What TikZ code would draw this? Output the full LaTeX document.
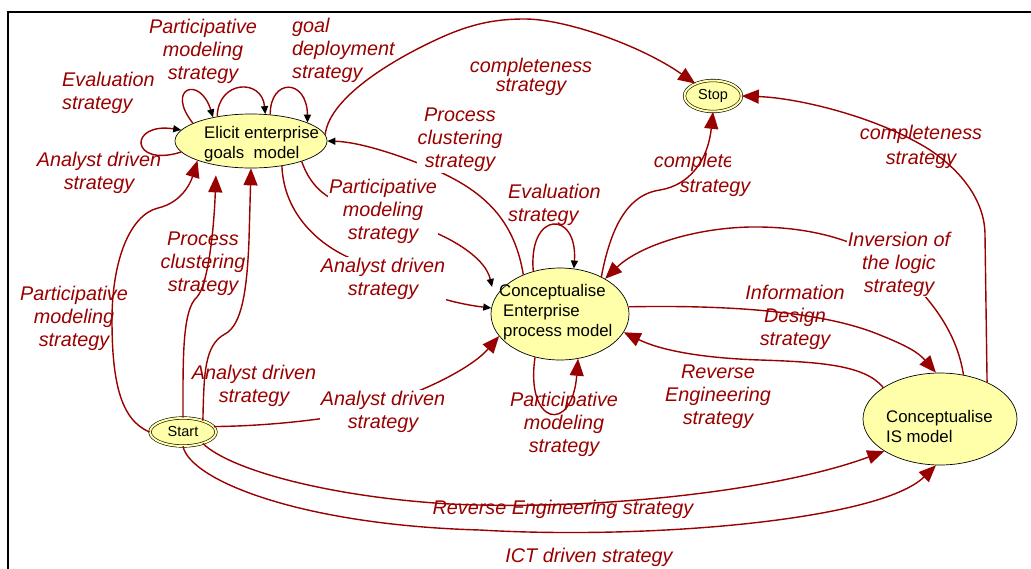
\documentclass[tikz,border=0pt]{standalone}
\usepackage{fontspec}
\setmainfont{Liberation Sans}
\usetikzlibrary{shapes.geometric,arrows.meta}
\definecolor{dred}{RGB}{153,0,0}
\definecolor{fillyel}{RGB}{255,255,170}
\newcommand{\lblfont}{\fontsize{19.8}{23}\selectfont\itshape}
\newcommand{\lblfontB}{\fontsize{19.8}{19}\selectfont\itshape}
\newcommand{\lblfontC}{\fontsize{19.8}{25}\selectfont\itshape}
\newcommand{\nodefont}{\fontsize{16.8}{20}\selectfont}
\newcommand{\smallnodefont}{\fontsize{14.5}{16}\selectfont}
\begin{document}
\begin{tikzpicture}[x=1pt,y=-1pt,
  conn/.style={draw=dred, line width=1.4pt},
  bigtip/.style={-{Triangle[length=17pt,width=14pt]}},
  smalltip/.style={-{Triangle[length=8pt,width=7pt,color=black]}},
  lbl/.style={text=dred, font=\lblfont, align=center, inner sep=2pt},
  opaque/.style={fill=white, inner sep=1pt},
  bubble/.style={ellipse, draw=black, line width=0.7pt, fill=fillyel, inner sep=0pt},
  bubbleD/.style={ellipse, draw=black, line width=0.6pt, double=fillyel, double distance=2pt, fill=fillyel, inner sep=0pt, font=\smallnodefont},
  ntext/.style={font=\nodefont, align=left, inner sep=0pt, text=black, anchor=west},
]
\fill[white] (0,0) rectangle (1031,568);
\useasboundingbox (0,0) rectangle (1031,568);
\draw[line width=2.2pt] (8,575) -- (8,12) -- (1040,12);

% nodes
\node[bubble, minimum width=152, minimum height=54] (elicit) at (251,141) {};
\node[bubble, minimum width=138, minimum height=92] (ent) at (560,314) {};
\node[bubble, minimum width=154, minimum height=92] (is) at (940,419) {};
\node[bubbleD, minimum width=57, minimum height=31] (stop) at (713,96) {Stop};
\node[bubbleD, minimum width=66, minimum height=28] (start) at (183,432) {Start};
\node[ntext] (elicittext) at (204,144) {Elicit enterprise\\goals\ \ model};
\node[ntext] (enttext) at (499,312) {Conceptualise\\\hspace*{4pt}Enterprise\\\hspace*{4pt}process model};
\node[ntext] (istext) at (886,426) {Conceptualise\\IS model};

% loops on Elicit
\draw[conn, smalltip] (elicit.163) .. controls (165,88) and (200,75) .. (elicit.148);
\draw[conn, smalltip] (elicit.144) .. controls (218,80) and (262,78) .. (elicit.62);
\draw[conn, smalltip] (elicit.54) .. controls (270,78) and (307,78) .. (elicit.18);
\draw[conn, smalltip] (elicit.-171) .. controls (130,168) and (128,122) .. (elicit.171);

% Elicit -> Stop
\draw[conn, bigtip] (elicit.5) .. controls (330,95) and (400,56) .. (440,38)
   .. controls (475,22) and (500,19) .. (525,19)
   .. controls (565,19) and (640,45) .. (stop.145);
% Ent -> Elicit (process clustering)
\draw[conn, smalltip] (ent.133) .. controls (515,225) and (490,195) .. (440,172)
   .. controls (400,155) and (360,142) .. (elicit.east);
% Elicit -> Ent (participative)
\draw[conn, smalltip] (elicit.-22) .. controls (312,190) and (330,205) .. (380,215)
   .. controls (440,228) and (485,255) .. ([xshift=-7pt,yshift=-3pt]enttext.north west);
% Elicit -> Ent (analyst)
\draw[conn, smalltip] (elicit.-39) .. controls (284,215) and (320,245) .. (350,258)
   .. controls (400,285) and (440,302) .. (ent.175);
% Ent evaluation loop
\draw[conn, smalltip] (ent.122) .. controls (528,210) and (578,210) .. (ent.73);
% Ent -> Stop
\draw[conn, bigtip] (ent.42) .. controls (610,232) and (625,195) .. (660,190)
   .. controls (690,185) and (708,160) .. (stop.south);
% IS -> Stop
\draw[conn, bigtip] (is.38) -- (985,235) .. controls (985,200) and (960,170) .. (930,150)
   .. controls (880,118) and (800,98) .. (stop.east);
% IS -> Ent (inversion)
\draw[conn, bigtip] (is.62) .. controls (958,340) and (940,310) .. (910,280)
   .. controls (880,250) and (830,228) .. (760,227)
   .. controls (700,226) and (640,245) .. (ent.38);
% Ent -> IS (information design)
\draw[conn, bigtip] (ent.6) .. controls (720,305) and (820,310) .. (880,335)
   .. controls (905,345) and (918,352) .. (is.95);
% IS -> Ent (reverse engineering)
\draw[conn, bigtip] (is.151) .. controls (865,365) and (820,362) .. (760,360)
   .. controls (700,358) and (660,350) .. (ent.-16);
% Ent participative loop
\draw[conn, bigtip] (ent.-120) .. controls (525,425) and (572,435) .. (ent.-68);
% Start -> Ent (analyst)
\draw[conn, bigtip] (start.10) .. controls (260,426) and (300,422) .. (340,416)
   .. controls (410,400) and (470,370) .. (ent.-160);
% Start -> Elicit (analyst)
\draw[conn, bigtip] (start.30) .. controls (204,375) and (204,345) .. (225,334)
   .. controls (242,325) and (247,290) .. (249,240) -- (elicit.south);
% Start -> Elicit (process clustering)
\draw[conn, bigtip, shorten >=10pt] (start.north) .. controls (183,360) and (182,310) .. (197,297)
   .. controls (208,285) and (214,230) .. (elicit.-145);
% Start -> Elicit (participative)
\draw[conn, bigtip] (start.west) .. controls (120,420) and (112,380) .. (112,320)
   .. controls (112,260) and (130,215) .. (158,208)
   .. controls (180,203) and (190,185) .. (elicit.-160);
% Start -> IS (reverse engineering)
\draw[conn, bigtip] (start.-30) .. controls (230,470) and (330,497) .. (450,504)
   .. controls (600,511) and (780,490) .. (is.-150);
% Start -> IS (ICT)
\draw[conn, bigtip] (start.south) .. controls (190,480) and (300,525) .. (480,530)
   .. controls (650,540) and (880,520) .. (is.-95);

% labels
\node[lbl] (l1) at (203,51) {Participative\\modeling\\strategy};
\node[lbl, align=left, anchor=west] (l2) at (290,50) {goal\\deployment\\strategy};
\node[lbl, align=left, anchor=west] (l3) at (60,93) {Evaluation\\strategy};
\node[lbl] (l4) at (99,173) {Analyst driven\\strategy};
\node[lbl, font=\lblfontB] (l5) at (531,77) {completeness\\strategy};
\node[lbl, opaque] (l6) at (460,140) {Process\\clustering\\strategy};
\node[lbl, opaque] (l7) at (383,211) {Participative\\modeling\\strategy};
\node[lbl, align=left, anchor=west] (l8) at (506,205) {Evaluation\\strategy};
\node[lbl, opaque] (l9) at (383,279) {Analyst driven\\strategy};
\begin{scope}
\clip (600,140) -- (730,140) -- (730,172) -- (790,172) -- (790,205) -- (600,205) -- cycle;
\node[lbl, font=\lblfontC] (l10) at (715,175) {completeness\\strategy};
\end{scope}
\node[lbl, font=\lblfontC] (l11) at (921,147) {completeness\\strategy};
\node[lbl, opaque] (l12) at (899,264) {Inversion of\\the logic\\strategy};
\node[lbl] (l13) at (795,317) {Information\\Design\\strategy};
\node[lbl] (l14) at (718,397) {Reverse\\Engineering\\strategy};
\node[lbl] (l15) at (564,424) {Participative\\modeling\\strategy};
\node[lbl, opaque] (l16) at (383,412) {Analyst driven\\strategy};
\node[lbl] (l17) at (254,386) {Analyst driven\\strategy};
\node[lbl] (l18) at (203,264) {Process\\clustering\\strategy};
\node[lbl] (l19) at (74,318) {Participative\\modeling\\strategy};
\node[lbl] (l20) at (563,509) {Reverse Engineering strategy};
\node[lbl] (l21) at (589,557) {ICT driven strategy};
\end{tikzpicture}
\end{document}
